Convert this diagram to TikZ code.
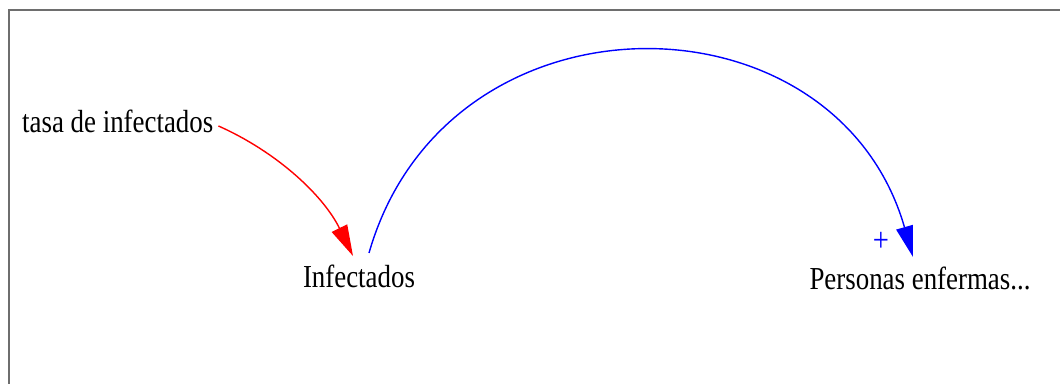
\documentclass[tikz,border=0pt]{standalone}
\usepackage{fontspec}
\setmainfont{Liberation Serif}[FakeStretch=0.84]
\usetikzlibrary{arrows.meta,calc}
\definecolor{FrameClr}{RGB}{110,110,110}
\definecolor{LinkRedClr}{RGB}{255,0,0}
\definecolor{LinkBlueClr}{RGB}{0,0,255}

\begin{document}
\begin{tikzpicture}[x=1pt,y=1pt,
  varname/.style={inner sep=0pt,anchor=base,font=\fontsize{32}{36}\selectfont},
  link/.style={line width=1.4pt,-{Triangle[length=31pt,width=17pt]}}]
\useasboundingbox (0,0) rectangle (1060,383);
\clip (0,0) rectangle (1060,383);
\draw[line width=1.2pt,color=FrameClr] (9,-10) rectangle (1080,373);

\node[varname,anchor=base west] (tasa) at (22,250) {tasa de infectados};
\node[varname] (infect) at (359,95) {Infectados};
\node[varname] (enfermas) at (920,93) {Personas enfermas...};
\node[inner sep=0pt,text=LinkBlueClr,font=\fontsize{34}{36}\selectfont] (plus) at (881,141) {+};

\draw[link,color=LinkRedClr] ($(tasa.base east)+(5,7)$) to[out=-24,in=116,looseness=0.9] ($(infect.base)+(-6,32)$);
\draw[link,color=LinkBlueClr] ($(infect.base)+(10,35)$) to[out=74,in=106,looseness=1.32] ($(enfermas.base)+(-7,33)$);
\end{tikzpicture}
\end{document}
